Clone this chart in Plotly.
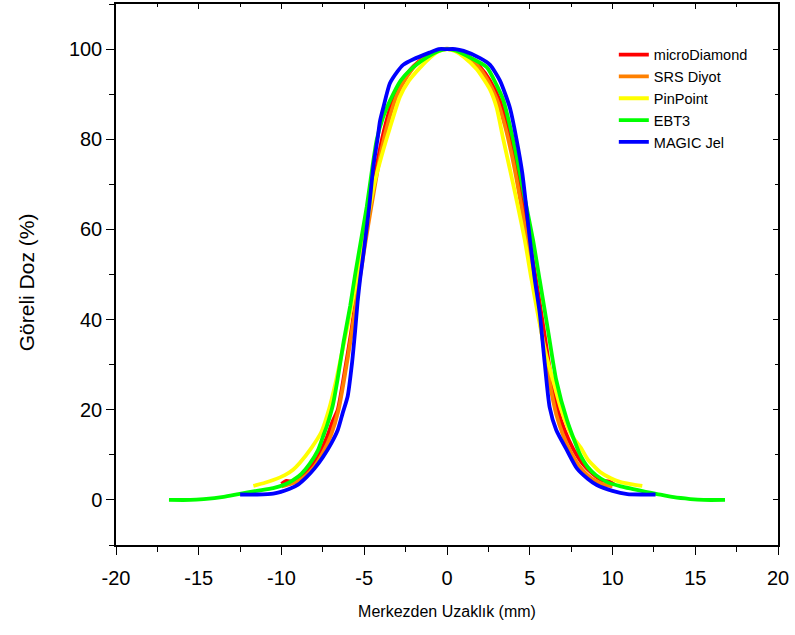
import plotly.graph_objects as go

# ---- data ----
md_x = [-10.0, -9.7, -9.3, -8.8, -8.3, -7.8, -7.3, -6.9, -6.6, -6.2, -5.8, -5.4, -5.0, -4.6, -4.15, -3.7, -3.2, -2.6, -2.0, -1.3, -0.5, 0.0,
        0.5, 1.3, 2.0, 2.6, 3.2, 3.7, 4.2, 4.7, 5.1, 5.5, 5.9, 6.3, 6.7, 7.1, 7.6, 8.2, 8.8, 9.4, 9.8, 10.1]
md_y = [3.5, 4.2, 4.0, 5.0, 7.0, 9.5, 13.5, 17.5, 20.0, 28.0, 37.0, 47.0, 56.5, 66.0, 76.0, 83.5, 89.5, 93.5, 96.3, 98.3, 99.7, 100.0,
        99.7, 98.3, 96.0, 93.0, 88.5, 82.0, 74.0, 64.0, 55.0, 46.0, 36.5, 27.0, 20.0, 15.5, 11.5, 8.0, 5.8, 4.3, 4.1, 3.4]

srs_x = [-10.0, -9.5, -9.0, -8.5, -8.0, -7.5, -7.0, -6.55, -6.2, -5.8, -5.4, -5.0, -4.6, -4.0, -3.5, -3.0, -2.4, -1.8, -1.0, -0.3,
         0.3, 1.0, 1.8, 2.4, 3.0, 3.5, 4.0, 4.5, 5.0, 5.4, 5.8, 6.2, 6.6, 7.0, 7.5, 8.0, 8.5, 9.0, 9.5, 10.0]
srs_y = [3.0, 3.5, 4.2, 5.5, 7.5, 10.5, 14.5, 20.0, 27.0, 36.0, 46.0, 55.5, 64.5, 77.0, 84.5, 90.0, 94.0, 96.8, 98.9, 100.0,
         100.0, 98.9, 96.5, 93.5, 89.0, 83.0, 75.0, 65.0, 54.0, 45.0, 35.0, 26.0, 19.0, 14.5, 10.5, 7.5, 5.5, 4.2, 3.4, 3.0]

pp_x = [-11.7, -11.0, -10.5, -9.8, -9.3, -8.9, -8.2, -7.6, -7.1, -6.7, -6.3, -5.85, -5.45, -5.0, -4.4, -3.85, -3.45, -2.85,
        -2.3, -1.6, -1.0, -0.5, 0.0, 0.5, 1.0, 1.8, 2.6, 3.0, 3.4, 4.0, 4.7, 5.1, 5.5, 6.0, 6.4, 6.9, 7.5, 8.1, 8.5, 9.25, 9.9,
        10.45, 11.1, 11.8]
pp_y = [3.1, 3.8, 4.4, 5.5, 6.7, 8.2, 11.5, 15.0, 20.5, 26.5, 33.5, 41.5, 49.0, 58.0, 70.0, 77.6, 82.5, 89.4,
        93.0, 96.0, 98.2, 99.5, 100.0, 99.5, 98.3, 95.5, 91.0, 87.0, 80.0, 70.0, 57.6, 49.0, 41.0, 32.0, 26.6, 20.0, 14.5, 11.5, 9.0, 6.2, 4.8,
        4.0, 3.5, 3.1]

ebt_x = [-16.8, -15.5, -14.7, -13.5, -12.6, -11.5, -10.5, -9.8, -9.3, -8.8, -8.3, -7.8, -7.5, -7.25, -6.9, -6.6, -6.25, -5.85,
         -5.55, -5.2, -4.85, -4.5, -4.25, -3.85, -3.45, -2.8, -2.25, -1.2, -0.5, 0.0, 0.5, 1.2, 2.4, 3.0, 3.4, 4.0, 4.6, 5.2,
         5.6, 6.1, 6.6, 7.25, 8.0, 8.5, 9.0, 9.65, 10.5, 11.25, 12.0, 12.7, 13.7, 14.7, 15.5, 16.8]
ebt_y = [0.0, 0.0, 0.2, 0.7, 1.3, 2.0, 2.6, 3.4, 4.4, 5.8, 8.0, 11.0, 14.0, 16.5, 21.0, 27.0, 35.0, 43.0,
         50.0, 57.5, 65.0, 74.0, 79.8, 85.0, 88.5, 93.0, 95.3, 98.2, 99.6, 100.0, 99.7, 98.5, 96.0, 92.0, 88.7, 79.8, 68.7, 57.6,
         48.8, 37.7, 26.6, 17.7, 10.4, 7.3, 5.5, 4.0, 3.0, 2.4, 1.8, 1.3, 0.6, 0.2, 0.0, 0.0]

mg_x = [-12.5, -11.5, -10.5, -9.5, -9.0, -8.5, -8.0, -7.5, -7.0, -6.6, -6.3, -6.0, -5.75, -5.55, -5.4, -5.25, -5.0, -4.7, -4.45,
        -4.2, -4.05, -3.85, -3.45, -3.0, -2.65, -2.0, -1.0, -0.5, 0.0, 0.5, 1.0, 2.0, 2.6, 3.2, 3.8, 4.2, 4.55, 5.0, 5.3, 5.6,
        5.9, 6.2, 6.6, 7.25, 7.85, 8.5, 9.05, 10.0, 10.9, 11.8, 12.6]
mg_y = [1.2, 1.2, 1.4, 2.5, 3.4, 5.0, 7.0, 9.5, 12.5, 15.5, 19.3, 23.0, 30.0, 37.5, 44.0, 49.0, 56.0, 65.0, 74.0,
        80.0, 84.0, 87.0, 92.4, 95.0, 96.5, 97.8, 99.3, 100.0, 100.0, 100.0, 99.6, 98.0, 96.5, 93.0, 87.0, 80.0, 72.5, 58.0, 49.0, 41.5,
        30.5, 20.6, 15.5, 11.0, 7.0, 4.7, 3.3, 2.0, 1.3, 1.2, 1.2]

names = ["microDiamond", "SRS Diyot", "PinPoint", "EBT3", "MAGIC Jel"]
colors = ["#FF0000", "#FF8000", "#FFFF00", "#00FF00", "#0000FF"]
xs = [md_x, srs_x, pp_x, ebt_x, mg_x]
ys = [md_y, srs_y, pp_y, ebt_y, mg_y]

x_ticks = [-20, -15, -10, -5, 0, 5, 10, 15, 20]
y_ticks = [0, 20, 40, 60, 80, 100]

FONT = "Liberation Sans, Arial, sans-serif"

fig = go.Figure()
for n, c, x, y in zip(names, colors, xs, ys):
    fig.add_trace(go.Scatter(x=x, y=y, mode="lines", name=n,
                             line=dict(color=c, width=3.8, shape="spline", smoothing=0.6)))

# dummy trace for mirrored (inward-tick) axes
fig.add_trace(go.Scatter(x=[None], y=[None], xaxis="x2", yaxis="y2", showlegend=False, hoverinfo="skip"))

fig.update_layout(
    width=795, height=635,
    margin=dict(l=116, r=17, t=4, b=90),
    paper_bgcolor="white", plot_bgcolor="white",
    font=dict(family=FONT, color="black"),
    showlegend=True,
    legend=dict(x=0.752, y=0.936, xanchor="left", yanchor="top",
                font=dict(size=14.5, family=FONT, color="black"),
                bgcolor="rgba(0,0,0,0)", borderwidth=0, tracegroupgap=0),
    xaxis=dict(range=[-20, 20], tickvals=x_ticks, ticktext=[str(v) for v in x_ticks],
               ticks="outside", ticklen=8, tickwidth=1.3, tickcolor="black",
               minor=dict(dtick=2.5, ticks="outside", ticklen=5, tickwidth=1.3, tickcolor="black", showgrid=False),
               showline=True, linecolor="black", linewidth=1.5, showgrid=False, zeroline=False,
               tickfont=dict(size=20, family=FONT, color="black"), ticklabelstandoff=6,
               title=dict(text="Merkezden Uzaklık (mm)", font=dict(size=16, family=FONT, color="black"), standoff=18),
               automargin=False),
    yaxis=dict(range=[-10, 110], tickvals=y_ticks, ticktext=[str(v) for v in y_ticks],
               ticks="outside", ticklen=8, tickwidth=1.3, tickcolor="black",
               minor=dict(dtick=10, tick0=0, ticks="outside", ticklen=5, tickwidth=1.3, tickcolor="black", showgrid=False),
               showline=True, linecolor="black", linewidth=1.5, showgrid=False, zeroline=False,
               tickfont=dict(size=20, family=FONT, color="black"),
               automargin=False),
    xaxis2=dict(range=[-20, 20], overlaying="x", side="top", anchor="y2", tickvals=x_ticks,
                ticks="inside", ticklen=5, tickwidth=1.3, tickcolor="black", showticklabels=False,
                minor=dict(dtick=2.5, ticks="inside", ticklen=3, tickwidth=1.3, tickcolor="black"),
                showline=True, linecolor="black", linewidth=1.5, showgrid=False, zeroline=False),
    yaxis2=dict(range=[-10, 110], overlaying="y", side="right", anchor="x2", tickvals=y_ticks,
                ticks="inside", ticklen=5, tickwidth=1.3, tickcolor="black", showticklabels=False,
                minor=dict(dtick=10, tick0=0, ticks="inside", ticklen=3, tickwidth=1.3, tickcolor="black"),
                showline=True, linecolor="black", linewidth=1.5, showgrid=False, zeroline=False),
    annotations=[dict(text="Göreli Doz (%)", textangle=-90, xref="paper", yref="paper",
                      x=-0.135, y=0.485, xanchor="center", yanchor="middle", showarrow=False,
                      font=dict(size=21, family=FONT, color="black"))],
)

fig.write_html("out.html", config={"displayModeBar": False},
               post_script="document.body.style.margin='0';document.body.style.overflow='hidden';")
